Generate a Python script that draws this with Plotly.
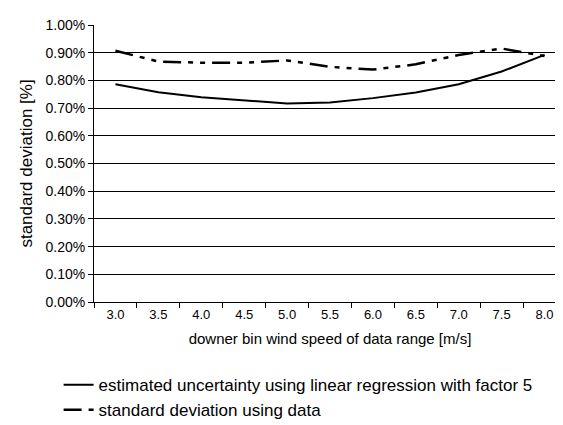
import plotly.graph_objects as go

wind_speed = ["3.0", "3.5", "4.0", "4.5", "5.0", "5.5", "6.0", "6.5", "7.0", "7.5", "8.0"]
estimated_uncertainty = [0.786, 0.757, 0.739, 0.727, 0.717, 0.720, 0.736, 0.756, 0.786, 0.832, 0.892]
std_dev_data = [0.907, 0.868, 0.864, 0.864, 0.872, 0.849, 0.839, 0.858, 0.892, 0.915, 0.888]

y_est = [v / 100 for v in estimated_uncertainty]
y_std = [v / 100 for v in std_dev_data]

fig = go.Figure()
fig.add_trace(go.Scatter(
    x=wind_speed, y=y_est, mode="lines",
    name="estimated uncertainty using linear regression with factor 5",
    line=dict(color="black", width=2), legendgroup="a"))
fig.add_trace(go.Scatter(
    x=wind_speed, y=y_std, mode="lines",
    name="standard deviation using data",
    line=dict(color="black", width=2.5, dash="18px,7px,5px,7px,5px,7px"), legendgroup="b"))

font = "Liberation Sans, Arial, sans-serif"
fig.update_layout(
    width=563, height=425,
    margin=dict(l=86, r=5, t=17, b=118),
    paper_bgcolor="white", plot_bgcolor="white",
    font=dict(family=font, color="black", size=13),
    showlegend=True,
    legend=dict(x=-0.075, xanchor="left", y=-0.235, yanchor="top",
                font=dict(size=17, family=font), tracegroupgap=0,
                bgcolor="rgba(0,0,0,0)", traceorder="grouped"),
    xaxis=dict(type="category", tickson="boundaries", ticks="outside", ticklen=5,
               range=[-0.5, 10.5],
               tickcolor="black", showline=True, linecolor="black", linewidth=1,
               showgrid=False, tickfont=dict(size=13),
               title=dict(text="downer bin wind speed of data range [m/s]", font=dict(size=15), standoff=12)),
    yaxis=dict(range=[0, 0.01], dtick=0.001, tickformat=".2%", ticks="outside", ticklen=5,
               tickcolor="black", showline=True, linecolor="black", linewidth=1,
               showgrid=True, gridcolor="black", gridwidth=1, zeroline=False,
               tickfont=dict(size=14),
               title=dict(text="standard deviation [%]", font=dict(size=17), standoff=8)),
)

fig.write_html("out.html")
